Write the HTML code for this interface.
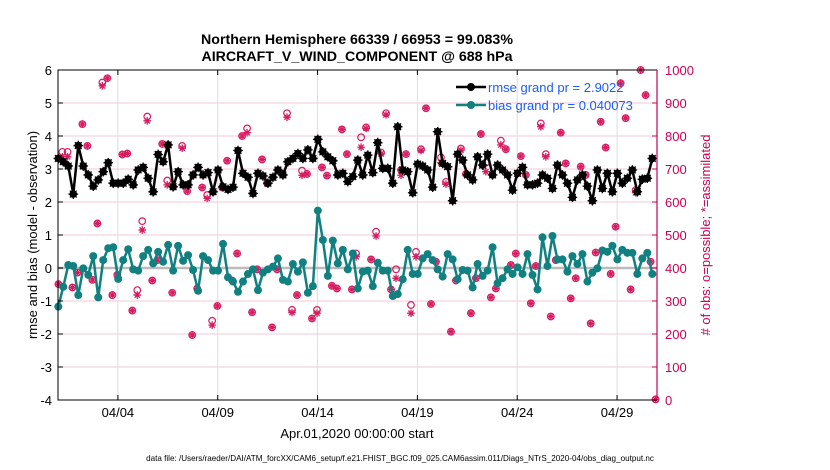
<!DOCTYPE html>
<html><head><meta charset="utf-8"><style>
body{margin:0;background:#fff;}
svg{display:block;font-family:"Liberation Sans",sans-serif;}
</style></head><body>
<svg id="chart" width="830" height="470" viewBox="0 0 830 470" xmlns="http://www.w3.org/2000/svg">
<text x="357" y="44" text-anchor="middle" font-size="14.2" font-weight="bold">Northern Hemisphere 66339 / 66953 = 99.083%</text>
<text x="357" y="61" text-anchor="middle" font-size="14.2" font-weight="bold">AIRCRAFT_V_WIND_COMPONENT @ 688 hPa</text>
<text transform="translate(37,235) rotate(-90)" text-anchor="middle" font-size="13">rmse and bias (model - observation)</text>
<text transform="translate(710,235) rotate(-90)" text-anchor="middle" font-size="13" fill="#cc0055">#  of obs: o=possible; *=assimilated</text>
<text x="357" y="438" text-anchor="middle" font-size="13">Apr.01,2020 00:00:00 start</text>
<text x="400" y="461" text-anchor="middle" font-size="8.1">data file: /Users/raeder/DAI/ATM_forcXX/CAM6_setup/f.e21.FHIST_BGC.f09_025.CAM6assim.011/Diags_NTrS_2020-04/obs_diag_output.nc</text>
<g id="grid"></g><g id="obs"></g><g id="series"></g><g id="axes"></g><g id="legend"></g>
</svg>
<script>
const rmseValues=[3.32,3.22,3.09,2.24,3.71,3.09,2.82,2.48,2.67,2.92,3.19,2.57,2.57,2.57,2.69,2.52,2.97,3.05,2.72,2.31,3.44,3.22,3.73,2.46,2.92,2.52,2.52,2.82,3.05,2.82,2.89,
2.31,2.97,2.46,2.38,2.45,3.56,2.87,2.75,2.26,2.87,2.79,2.57,2.75,2.97,2.82,3.22,3.32,3.47,3.32,3.58,3.32,3.9,3.52,3.37,3.25,2.82,2.87,2.62,2.77,3.27,
2.82,3.42,2.89,3.80,3.02,3.02,2.57,4.28,2.97,2.92,2.28,3.15,3.09,2.97,2.45,4.13,3.17,3.07,2.04,3.45,3.27,2.82,2.67,3.37,3.12,3.45,2.82,3.12,2.97,2.82,
2.36,2.87,3.05,2.52,2.52,2.57,2.82,2.72,2.41,3.12,2.82,2.57,2.14,2.67,2.82,2.48,2.04,2.97,2.41,2.87,2.31,2.87,2.57,2.72,2.97,2.31,2.69,2.72,3.32];
const biasValues=[-1.17,-0.57,0.09,0.06,-0.82,-0.01,-0.21,0.36,-0.89,0.24,0.60,0.63,-0.33,0.24,0.57,-0.04,-0.08,0.36,0.55,0.14,0.49,0.19,0.70,-0.08,0.67,0.22,0.39,-0.06,-0.69,0.36,0.24,
-0.08,-0.08,0.73,-0.28,-0.41,-0.72,-0.41,-0.18,-0.04,-0.67,-0.14,-0.04,0.04,0.29,-0.36,-0.41,0.12,-0.11,0.17,-0.75,-0.55,1.74,0.85,-0.24,0.83,0.14,0.55,-0.04,0.44,-0.62,
-0.11,-0.08,-0.55,0.16,-0.08,-0.08,-0.85,-0.79,-0.34,0.55,-0.18,-0.18,0.29,0.42,0.24,-0.04,-0.26,0.42,0.26,-0.34,-0.06,-0.08,-0.59,0.12,-0.24,-0.08,0.63,-0.46,-0.31,-0.04,
-0.18,0.02,-0.18,0.42,-0.21,-0.65,0.93,0.06,0.97,0.26,0.26,-0.11,0.36,0.12,0.42,-0.41,-0.14,-0.01,0.53,0.49,0.67,0.26,0.55,0.46,0.46,-0.18,0.29,0.46,-0.18];
const obsDays=[0.02,0.22,0.48,0.72,0.97,1.22,1.47,1.72,1.97,2.22,2.47,2.72,2.97,3.22,3.47,3.72,3.97,4.22,4.47,4.72,4.97,5.22,5.47,5.72,6.22,6.47,6.72,6.97,7.22,7.47,
7.72,7.98,8.22,8.47,8.72,8.97,9.22,9.47,9.72,9.97,10.22,10.47,10.72,10.97,11.22,11.47,11.72,11.97,12.22,12.47,12.72,12.97,13.22,13.47,13.72,13.97,14.22,14.47,14.72,
14.93,15.18,15.43,15.68,15.93,16.18,16.43,16.68,16.93,17.18,17.43,17.68,17.93,18.18,18.43,18.68,18.93,19.18,19.43,19.68,19.93,20.18,20.43,20.68,20.93,21.18,21.43,21.68,21.93,22.18,22.43,
22.68,22.93,23.18,23.43,23.68,23.93,24.18,24.43,24.68,24.93,25.18,25.43,25.68,25.93,26.18,26.43,26.68,26.93,27.18,27.43,27.68,27.93,28.18,28.43,28.68,28.93,29.18,29.43,29.68,29.93];
const obsPossible=[351,752,752,341,386,836,770,364,535,962,975,318,379,744,747,271,333,542,859,362,424,776,665,325,770,633,197,338,644,621,
240,285,644,725,362,444,800,823,266,396,729,657,220,396,685,869,273,318,695,685,247,273,705,680,346,338,820,745,335,
444,796,826,426,510,750,869,335,396,697,745,288,449,760,884,291,419,735,661,207,362,762,685,263,369,806,719,311,338,786,760,
409,444,739,682,293,406,838,745,253,424,810,717,308,369,707,682,232,447,843,765,382,525,960,854,335,636,1000,924,419,2];
const obsUsed=[351,737,737,341,386,836,770,364,535,952,975,318,379,744,747,271,318,515,846,362,424,776,652,325,763,633,197,338,644,611,
227,285,644,725,362,444,800,810,266,396,729,657,220,396,685,857,265,318,681,685,247,263,705,680,346,338,820,745,335,
434,766,823,426,497,746,864,335,369,681,745,263,434,756,884,291,419,719,654,207,362,757,685,263,369,806,692,311,338,773,760,
409,444,739,682,293,406,828,737,253,424,810,717,308,369,707,682,232,447,843,765,382,525,960,854,335,628,1000,924,419,2];
const leftTicks=[-4,-3,-2,-1,0,1,2,3,4,5,6];
const rightTicks=[0,100,200,300,400,500,600,700,800,900,1000];
const xTickDays=[3,8,13,18,23,28];
const xTickLabels=["04/04","04/09","04/14","04/19","04/24","04/29"];
const legendLabels=["rmse grand pr = 2.9022","bias grand pr = 0.040073"];

const NS="http://www.w3.org/2000/svg";
const L=58,R=657,T=70,B=400;
const xDay=d=>L+d*(R-L)/30;
const xIdx=i=>xDay(0.015+i*0.25);
const yL=v=>B-(v+4)*(B-T)/10;
const yR=c=>B-c*(B-T)/1000;
function mk(tag,attrs,parent){const e=document.createElementNS(NS,tag);for(const k in attrs)e.setAttribute(k,attrs[k]);parent.appendChild(e);return e;}
const grid=document.getElementById('grid'),axes=document.getElementById('axes'),obs=document.getElementById('obs'),series=document.getElementById('series'),legend=document.getElementById('legend');

leftTicks.forEach(v=>{
 const g=mk('line',{x1:L,x2:R,y1:yL(v),y2:yL(v),stroke:'#f3c9da','stroke-width':1},grid);
 
 
 const tk=mk('line',{x1:L,x2:L+5,y1:yL(v),y2:yL(v),stroke:'#000'},axes);
 
 
 const t=mk('text',{x:L-6,y:yL(v)+5,'text-anchor':'end','font-size':13},axes);t.textContent=v;
 
 
});
rightTicks.forEach(c=>{
 const tk=mk('line',{x1:R-5,x2:R,y1:yR(c),y2:yR(c),stroke:'#cc0055'},axes);
 
 
 const t=mk('text',{x:R+8,y:yR(c)+5,'font-size':13,fill:'#cc0055'},axes);t.textContent=c;
 
 
});
xTickDays.forEach((d,i)=>{
 const g=mk('line',{x1:xDay(d),x2:xDay(d),y1:T,y2:B,stroke:'#dddddd'},grid);
 
 
 const tk=mk('line',{x1:xDay(d),x2:xDay(d),y1:B-5,y2:B,stroke:'#000'},axes);
 
 
 const tk2=mk('line',{x1:xDay(d),x2:xDay(d),y1:T,y2:T+5,stroke:'#000'},axes);
 
 
 const t=mk('text',{x:xDay(d),y:B+17,'text-anchor':'middle','font-size':13},axes);t.textContent=xTickLabels[i];
 
 
});
const zl=mk('line',{x1:L,x2:R,y1:yL(0),y2:yL(0),stroke:'#bbbbbb','stroke-width':2.5},grid);



const ax=mk('path',{d:`M${R},${T}H${L}V${B}H${R}`,fill:'none',stroke:'#000','stroke-width':1},axes);


const rs=mk('line',{x1:R,x2:R,y1:T,y2:B,stroke:'#cc0055','stroke-width':1.2},axes);



function star(parent,x,y,r,col,w){
 const g=mk('path',{d:`M${x-r},${y}H${x+r}M${x},${y-r}V${y+r}M${x-r*0.7},${y-r*0.7}L${x+r*0.7},${y+r*0.7}M${x-r*0.7},${y+r*0.7}L${x+r*0.7},${y-r*0.7}`,stroke:col,'stroke-width':w,fill:'none'},parent);
 return g;
}
obsDays.forEach((d,i)=>{
 const c=mk('circle',{cx:xDay(d),cy:yR(obsPossible[i]),r:3.3,fill:'none',stroke:'#d81b60','stroke-width':1.2},obs);
 
 
 const s=star(obs,xDay(d),yR(obsUsed[i]),3.8,'#d81b60',1.3);
 
 
});

function line(vals,col,name){
 const p=mk('polyline',{points:vals.map((v,i)=>xIdx(i)+','+yL(v)).join(' '),fill:'none',stroke:col,'stroke-width':2.5,'stroke-linejoin':'round'},series);
 
 
}
line(rmseValues,'#000','rmse');
rmseValues.forEach((v,i)=>{
 const c=mk('circle',{cx:xIdx(i),cy:yL(v),r:3.8,fill:'#000'},series);
 
 
 star(series,xIdx(i),yL(v),4.8,'#000',1.3);
});
line(biasValues,'#108080','bias');
biasValues.forEach((v,i)=>{
 const c=mk('circle',{cx:xIdx(i),cy:yL(v),r:4,fill:'#108080'},series);
 
 
});

[['#000','rmse'],['#108080','bias']].forEach((e,i)=>{
 const y=87+i*18;
 const l=mk('line',{x1:456,x2:486,y1:y,y2:y,stroke:e[0],'stroke-width':2.5},legend);
 
 
 const c=mk('circle',{cx:471,cy:y,r:4,fill:e[0]},legend);
 
 
 const t=mk('text',{x:488,y:y+5,'font-size':13,fill:'#1a5cff'},legend);t.textContent=legendLabels[i];
 
 
});
</script>
</body></html>
